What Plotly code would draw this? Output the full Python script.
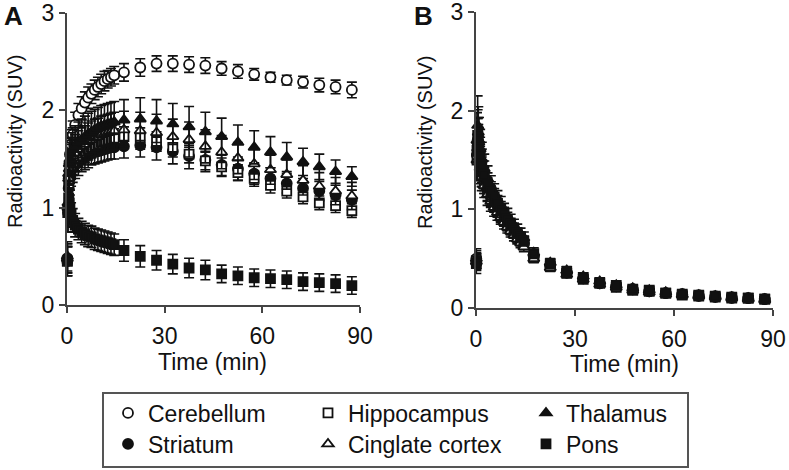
import plotly.graph_objects as go

W, H = 789, 470
FONT = "Liberation Sans, Arial, Helvetica, sans-serif"
INK = "#111111"
AXC = "#444444"

# ---------------- data ----------------
time_min = [0.1, 0.3, 0.5, 0.7, 0.9, 1.25, 1.75, 2.5, 3.5, 4.5, 5.5, 6.5, 7.5, 8.5, 9.5,
            10.5, 11.5, 12.5, 13.5, 14.5, 17.5, 22.5, 27.5, 32.5, 37.5, 42.5, 47.5, 52.5,
            57.5, 62.5, 67.5, 72.5, 77.5, 82.5, 87.5]

regions = ["Cerebellum", "Striatum", "Hippocampus", "Cinglate cortex", "Thalamus", "Pons"]
x_ticks = [0, 30, 60, 90]
y_ticks = [0, 1, 2, 3]

# Panel A
cerebellum_A = [0.48, 1.00, 1.30, 1.45, 1.55, 1.65, 1.75, 1.85, 1.95, 2.02, 2.08, 2.13, 2.17, 2.21, 2.24,
                2.27, 2.30, 2.32, 2.34, 2.36, 2.39, 2.44, 2.48, 2.48, 2.47, 2.46, 2.43, 2.40,
                2.37, 2.34, 2.31, 2.29, 2.26, 2.24, 2.21]
striatum_A = [0.45, 0.95, 1.20, 1.30, 1.35, 1.38, 1.41, 1.44, 1.47, 1.50, 1.52, 1.54, 1.56, 1.57, 1.58,
              1.59, 1.60, 1.61, 1.62, 1.62, 1.63, 1.64, 1.62, 1.58, 1.53, 1.49, 1.44, 1.40,
              1.35, 1.30, 1.25, 1.20, 1.17, 1.13, 1.08]
hippocampus_A = [0.45, 0.95, 1.25, 1.35, 1.40, 1.43, 1.46, 1.50, 1.53, 1.56, 1.58, 1.60, 1.62, 1.64, 1.65,
                 1.67, 1.68, 1.69, 1.70, 1.71, 1.73, 1.72, 1.68, 1.62, 1.55, 1.48, 1.42, 1.36,
                 1.30, 1.23, 1.17, 1.11, 1.05, 1.02, 0.97]
cinglate_A = [0.48, 1.00, 1.30, 1.40, 1.45, 1.50, 1.53, 1.56, 1.60, 1.63, 1.65, 1.68, 1.70, 1.72, 1.73,
              1.75, 1.76, 1.77, 1.78, 1.79, 1.80, 1.79, 1.77, 1.73, 1.70, 1.63, 1.57, 1.51,
              1.45, 1.39, 1.34, 1.28, 1.22, 1.17, 1.12]
thalamus_A = [0.50, 1.05, 1.35, 1.45, 1.50, 1.55, 1.60, 1.63, 1.67, 1.70, 1.73, 1.76, 1.78, 1.80, 1.82,
              1.84, 1.85, 1.86, 1.87, 1.88, 1.90, 1.91, 1.89, 1.86, 1.83, 1.78, 1.73, 1.67,
              1.62, 1.57, 1.52, 1.47, 1.42, 1.37, 1.32]
pons_A = [0.45, 0.95, 1.10, 1.05, 1.00, 0.93, 0.87, 0.82, 0.78, 0.75, 0.73, 0.71, 0.70, 0.68, 0.67,
          0.66, 0.65, 0.64, 0.63, 0.62, 0.56, 0.50, 0.46, 0.42, 0.38, 0.36, 0.32, 0.30,
          0.28, 0.27, 0.26, 0.24, 0.23, 0.22, 0.20]

cerebellum_A_err = [0.15, 0.20, 0.20, 0.18, 0.16, 0.15, 0.14, 0.13, 0.12, 0.12, 0.11, 0.11, 0.10, 0.10, 0.10,
                    0.10, 0.10, 0.09, 0.09, 0.09, 0.09, 0.09, 0.08, 0.08, 0.08, 0.08, 0.07, 0.07,
                    0.06, 0.05, 0.05, 0.06, 0.07, 0.07, 0.08]
striatum_A_err = [0.15, 0.20, 0.20, 0.18, 0.17, 0.16, 0.15, 0.14, 0.14, 0.13, 0.13, 0.13, 0.12, 0.12, 0.12,
                  0.12, 0.12, 0.12, 0.12, 0.12, 0.12, 0.12, 0.13, 0.13, 0.13, 0.12, 0.12, 0.12,
                  0.11, 0.11, 0.10, 0.10, 0.10, 0.10, 0.10]
hippocampus_A_err = [0.15, 0.20, 0.18, 0.16, 0.15, 0.14, 0.13, 0.12, 0.11, 0.11, 0.10, 0.10, 0.10, 0.10, 0.10,
                     0.10, 0.10, 0.10, 0.10, 0.10, 0.10, 0.10, 0.10, 0.10, 0.09, 0.09, 0.09, 0.08,
                     0.08, 0.08, 0.07, 0.07, 0.07, 0.07, 0.07]
cinglate_A_err = [0.15, 0.20, 0.20, 0.20, 0.20, 0.19, 0.19, 0.19, 0.19, 0.19, 0.19, 0.19, 0.19, 0.19, 0.19,
                  0.19, 0.19, 0.19, 0.19, 0.19, 0.19, 0.19, 0.19, 0.18, 0.18, 0.17, 0.17, 0.16,
                  0.16, 0.15, 0.15, 0.15, 0.14, 0.14, 0.14]
thalamus_A_err = [0.15, 0.22, 0.22, 0.22, 0.22, 0.22, 0.22, 0.21, 0.21, 0.21, 0.21, 0.21, 0.21, 0.21, 0.21,
                  0.21, 0.21, 0.21, 0.21, 0.21, 0.21, 0.22, 0.22, 0.21, 0.21, 0.20, 0.19, 0.18,
                  0.17, 0.16, 0.15, 0.14, 0.13, 0.12, 0.10]
pons_A_err = [0.15, 0.15, 0.14, 0.13, 0.13, 0.12, 0.12, 0.12, 0.11, 0.11, 0.11, 0.11, 0.11, 0.11, 0.11,
              0.11, 0.11, 0.11, 0.11, 0.11, 0.11, 0.11, 0.10, 0.10, 0.10, 0.10, 0.09, 0.09,
              0.09, 0.09, 0.09, 0.09, 0.09, 0.09, 0.09]

# Panel B
cerebellum_B = [0.50, 1.55, 1.70, 1.66, 1.58, 1.50, 1.41, 1.31, 1.22, 1.15, 1.09, 1.03, 0.97, 0.92, 0.87,
                0.83, 0.78, 0.74, 0.70, 0.66, 0.53, 0.43, 0.36, 0.30, 0.25, 0.22, 0.19, 0.17,
                0.15, 0.14, 0.13, 0.12, 0.11, 0.10, 0.09]
striatum_B = [0.46, 1.55, 1.68, 1.62, 1.55, 1.47, 1.38, 1.29, 1.20, 1.13, 1.07, 1.01, 0.96, 0.91, 0.86,
              0.81, 0.77, 0.73, 0.69, 0.65, 0.52, 0.43, 0.36, 0.30, 0.25, 0.22, 0.19, 0.17,
              0.15, 0.14, 0.12, 0.11, 0.10, 0.10, 0.09]
hippocampus_B = [0.48, 1.50, 1.65, 1.60, 1.53, 1.45, 1.36, 1.27, 1.18, 1.11, 1.05, 0.99, 0.94, 0.89, 0.84,
                 0.80, 0.76, 0.72, 0.68, 0.64, 0.51, 0.42, 0.35, 0.29, 0.25, 0.21, 0.18, 0.17,
                 0.15, 0.13, 0.12, 0.11, 0.10, 0.10, 0.09]
cinglate_B = [0.47, 1.50, 1.62, 1.57, 1.50, 1.42, 1.33, 1.24, 1.15, 1.08, 1.02, 0.97, 0.92, 0.87, 0.82,
              0.78, 0.74, 0.70, 0.66, 0.62, 0.50, 0.41, 0.34, 0.29, 0.24, 0.21, 0.18, 0.16,
              0.14, 0.13, 0.12, 0.11, 0.10, 0.09, 0.08]
thalamus_B = [0.50, 1.70, 1.85, 1.78, 1.70, 1.61, 1.51, 1.41, 1.31, 1.23, 1.16, 1.10, 1.04, 0.98, 0.93,
              0.88, 0.83, 0.79, 0.75, 0.71, 0.56, 0.46, 0.38, 0.32, 0.27, 0.23, 0.20, 0.18,
              0.16, 0.14, 0.13, 0.12, 0.11, 0.10, 0.09]
pons_B = [0.45, 1.60, 1.75, 1.70, 1.62, 1.55, 1.45, 1.35, 1.25, 1.18, 1.12, 1.06, 1.00, 0.95, 0.90,
          0.85, 0.80, 0.76, 0.72, 0.68, 0.55, 0.45, 0.37, 0.31, 0.26, 0.23, 0.19, 0.18,
          0.15, 0.14, 0.13, 0.12, 0.11, 0.10, 0.09]

cerebellum_B_err = [0.08, 0.20, 0.22, 0.20, 0.18, 0.16, 0.14, 0.12, 0.10, 0.09, 0.08, 0.08, 0.07, 0.07, 0.06,
                    0.06, 0.06, 0.05, 0.05, 0.05, 0.04, 0.04, 0.03, 0.03, 0.03, 0.02, 0.02, 0.02,
                    0.02, 0.02, 0.02, 0.02, 0.02, 0.02, 0.02]
striatum_B_err = [0.08, 0.22, 0.24, 0.21, 0.19, 0.17, 0.15, 0.13, 0.11, 0.10, 0.09, 0.08, 0.08, 0.07, 0.07,
                  0.06, 0.06, 0.06, 0.05, 0.05, 0.04, 0.04, 0.03, 0.03, 0.03, 0.03, 0.02, 0.02,
                  0.02, 0.02, 0.02, 0.02, 0.02, 0.02, 0.02]
hippocampus_B_err = [0.08, 0.20, 0.21, 0.19, 0.17, 0.15, 0.13, 0.11, 0.10, 0.09, 0.08, 0.07, 0.07, 0.06, 0.06,
                     0.06, 0.05, 0.05, 0.05, 0.05, 0.04, 0.03, 0.03, 0.03, 0.02, 0.02, 0.02, 0.02,
                     0.02, 0.02, 0.02, 0.02, 0.02, 0.02, 0.02]
cinglate_B_err = [0.08, 0.21, 0.22, 0.20, 0.18, 0.16, 0.14, 0.12, 0.11, 0.10, 0.09, 0.08, 0.07, 0.07, 0.06,
                  0.06, 0.06, 0.05, 0.05, 0.05, 0.04, 0.04, 0.03, 0.03, 0.03, 0.02, 0.02, 0.02,
                  0.02, 0.02, 0.02, 0.02, 0.02, 0.02, 0.02]
thalamus_B_err = [0.10, 0.28, 0.30, 0.26, 0.23, 0.20, 0.17, 0.15, 0.13, 0.11, 0.10, 0.09, 0.09, 0.08, 0.08,
                  0.07, 0.07, 0.06, 0.06, 0.06, 0.05, 0.04, 0.04, 0.03, 0.03, 0.03, 0.02, 0.02,
                  0.02, 0.02, 0.02, 0.02, 0.02, 0.02, 0.02]
pons_B_err = [0.10, 0.25, 0.26, 0.23, 0.20, 0.18, 0.16, 0.14, 0.12, 0.10, 0.09, 0.08, 0.08, 0.07, 0.07,
              0.06, 0.06, 0.05, 0.05, 0.05, 0.04, 0.04, 0.03, 0.03, 0.03, 0.02, 0.02, 0.02,
              0.02, 0.02, 0.02, 0.02, 0.02, 0.02, 0.02]

panel_A = [cerebellum_A, striatum_A, hippocampus_A, cinglate_A, thalamus_A, pons_A]
panel_A_err = [cerebellum_A_err, striatum_A_err, hippocampus_A_err, cinglate_A_err, thalamus_A_err, pons_A_err]
panel_B = [cerebellum_B, striatum_B, hippocampus_B, cinglate_B, thalamus_B, pons_B]
panel_B_err = [cerebellum_B_err, striatum_B_err, hippocampus_B_err, cinglate_B_err, thalamus_B_err, pons_B_err]

# ---------------- styling ----------------
symbols = ["circle", "circle", "square", "triangle-up", "triangle-up", "square"]
filled = [False, True, False, False, True, True]
sizes = [10, 10, 9, 10, 10, 9]
legend_ids = ["legend", "legend4", "legend2", "legend5", "legend3", "legend6"]
# legend entry (text start x px, row centre y px)
legend_pos = {"legend": (145, 413), "legend2": (345, 413), "legend3": (563, 413),
              "legend4": (145, 444), "legend5": (345, 444), "legend6": (563, 444)}


def px(xp):
    return xp / W


def py(yp):
    return 1 - yp / H


fig = go.Figure()
for vals, errs, xa, ya, show in ((panel_A, panel_A_err, "x", "y", True),
                                 (panel_B, panel_B_err, "x2", "y2", False)):
    for i, name in enumerate(regions):
        fig.add_trace(go.Scatter(
            x=time_min, y=vals[i], mode="markers", name=name,
            xaxis=xa, yaxis=ya, showlegend=show, legend=legend_ids[i],
            cliponaxis=False,
            marker=dict(symbol=symbols[i], size=sizes[i],
                        color=INK if filled[i] else "white",
                        line=dict(color=INK, width=1.8)),
            error_y=dict(type="data", array=errs[i], visible=True,
                         color=INK, thickness=1.6, width=5),
        ))

axis_common = dict(showgrid=False, zeroline=False, showline=True, linecolor=AXC, linewidth=2,
                   ticks="outside", ticklen=6, tickwidth=2, tickcolor=AXC,
                   ticklabeloverflow="allow",
                   tickfont=dict(family=FONT, size=23, color=INK))

layout = dict(
    width=W, height=H, margin=dict(l=0, r=0, t=0, b=0, autoexpand=False),
    paper_bgcolor="white", plot_bgcolor="white",
    font=dict(family=FONT, color=INK),
    xaxis=dict(domain=[px(67), px(360)], range=[0, 90], tickvals=x_ticks, anchor="y",
               ticklabelstandoff=3, **axis_common),
    yaxis=dict(domain=[py(305), py(13)], range=[0, 3], tickvals=y_ticks, anchor="x", **axis_common),
    xaxis2=dict(domain=[px(476), px(773)], range=[0, 90], tickvals=x_ticks, anchor="y2",
                ticklabelstandoff=3, **axis_common),
    yaxis2=dict(domain=[py(308), py(12)], range=[0, 3], tickvals=y_ticks, anchor="x2", **axis_common),
)
for lid, (tx, ry) in legend_pos.items():
    layout[lid] = dict(x=px(tx - 37), y=py(ry), xanchor="left", yanchor="middle",
                       bgcolor="rgba(0,0,0,0)", borderwidth=0,
                       font=dict(family=FONT, size=23, color=INK))
fig.update_layout(**layout)

fig.add_shape(type="rect", xref="paper", yref="paper",
              x0=px(103), x1=px(688), y0=py(467), y1=py(393),
              line=dict(color="#555555", width=2), fillcolor="rgba(0,0,0,0)")

annots = [
    dict(text="Radioactivity (SUV)", x=px(15), y=py(142), textangle=-90, size=20),
    dict(text="Radioactivity (SUV)", x=px(425), y=py(143), textangle=-90, size=20),
    dict(text="Time (min)", x=px(213), y=py(362), textangle=0, size=23),
    dict(text="Time (min)", x=px(624), y=py(364), textangle=0, size=23),
    dict(text="<b>A</b>", x=px(13), y=py(16), textangle=0, size=26),
    dict(text="<b>B</b>", x=px(423), y=py(16), textangle=0, size=26),
]
for a in annots:
    fig.add_annotation(text=a["text"], x=a["x"], y=a["y"], xref="paper", yref="paper",
                       xanchor="center", yanchor="middle", textangle=a["textangle"],
                       showarrow=False, font=dict(family=FONT, size=a["size"], color=INK))

fig.write_html("out.html", config={"displayModeBar": False},
               post_script="document.body.style.margin='0px';document.body.style.overflow='hidden';")
